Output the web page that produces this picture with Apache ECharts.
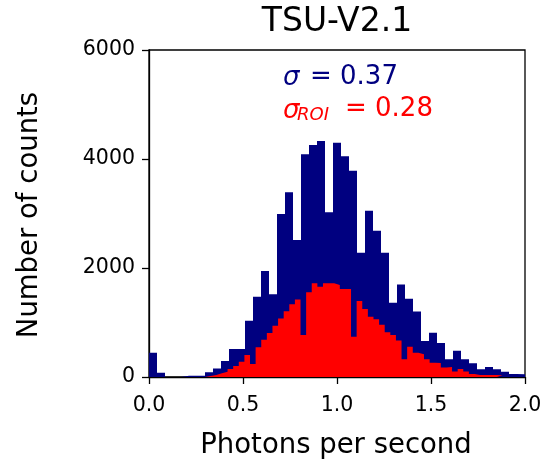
<!DOCTYPE html>
<html>
<head>
<meta charset="utf-8">
<script src="https://cdn.jsdelivr.net/npm/echarts@6/dist/echarts.min.js"></script>
<style>
html,body{margin:0;padding:0;background:#fff;}
#c{width:545px;height:466px;}
</style>
</head>
<body>
<div id="c"></div>
<script>
// ---- data ----
const titleText = 'TSU-V2.1';
const xLabel = 'Photons per second';
const yLabel = 'Number of counts';
const xTicks = [0.0, 0.5, 1.0, 1.5, 2.0];
const yTicks = [0, 2000, 4000, 6000];

// all photons: 47 bins from 0 to 2
const allBinStart = 0;
const allBinWidth = 2 / 47;
const allCounts = [446, 79, 0, 0, 25, 25, 25, 88, 155, 294, 514, 514, 1033, 1474, 1945, 1517,
  2991, 3389, 2514, 4086, 4257, 4331, 3022, 4300, 4050, 3786, 2281, 3052, 2685, 2281, 1363,
  1695, 1435, 1200, 660, 813, 625, 324, 483, 324, 251, 144, 184, 144, 95, 55, 50];

// ROI photons: 63 bins of width 2/67 from 0
const roiBinStart = 0;
const roiBinWidth = 2 / 67;
const roiCounts = [0, 0, 0, 0, 0, 0, 0, 0, 0, 0, 18, 37, 67, 98, 147, 202, 281, 404, 239, 545,
  685, 807, 942, 1073, 1205, 1336, 1420, 771, 1556, 1719, 1657, 1719, 1719, 1688, 1615, 1615,
  740, 1395, 1250, 1107, 1058, 960, 822, 771, 670, 324, 556, 446, 416, 327, 260, 255, 175, 185,
  100, 145, 100, 55, 37, 37, 37, 37, 30];

const sigmaAll = '0.37';
const sigmaRoi = '0.28';

// ---- build step data ----
function stepData(start, width, counts) {
  const d = counts.map((c, i) => [start + i * width, c]);
  d.push([start + counts.length * width, counts[counts.length - 1]]);
  return d;
}

const FONT = 'DejaVu Sans';
const chart = echarts.init(document.getElementById('c'), null, {renderer: 'canvas'});
const axisCommon = {
  axisLine: {show: true, lineStyle: {color: '#000', width: 1.3}},
  axisTick: {show: true, inside: false, length: 7, lineStyle: {color: '#000', width: 1.3}},
  splitLine: {show: false},
};
chart.setOption({
  animation: false,
  backgroundColor: '#fff',
  grid: {left: 149, top: 50, width: 376, height: 327, show: true, borderColor: '#000', borderWidth: 1.3, backgroundColor: 'transparent'},
  xAxis: Object.assign({
    type: 'value', min: xTicks[0], max: xTicks[xTicks.length - 1], interval: xTicks[1] - xTicks[0],
    axisLabel: {color: '#000', fontSize: 20.5, fontFamily: FONT, margin: 18, formatter: v => v.toFixed(1), showMinLabel: true, showMaxLabel: true},
  }, axisCommon),
  yAxis: Object.assign({
    type: 'value', min: yTicks[0], max: yTicks[yTicks.length - 1], interval: yTicks[1] - yTicks[0],
    axisLabel: {color: '#000', fontSize: 20.5, fontFamily: FONT, margin: 14, formatter: v => String(v), showMinLabel: true, showMaxLabel: true},
  }, axisCommon),
  series: [
    {
      type: 'line', step: 'end', symbol: 'none', data: stepData(allBinStart, allBinWidth, allCounts),
      lineStyle: {width: 0, color: '#000080'}, itemStyle: {color: '#000080'},
      areaStyle: {color: '#000080', opacity: 1}, z: 2
    },
    {
      type: 'line', step: 'end', symbol: 'none', data: stepData(roiBinStart, roiBinWidth, roiCounts),
      lineStyle: {width: 0, color: '#ff0000'}, itemStyle: {color: '#ff0000'},
      areaStyle: {color: '#ff0000', opacity: 1}, z: 3
    }
  ],
  graphic: [
    {type: 'text', style: {text: titleText, x: 337, y: 22, fill: '#000', font: '33px "DejaVu Sans"', align: 'center', verticalAlign: 'middle'}},
    {type: 'text', style: {text: xLabel, x: 336, y: 446, fill: '#000', font: '27.5px "DejaVu Sans"', align: 'center', verticalAlign: 'middle'}},
    {type: 'text', x: 30, y: 215, rotation: Math.PI / 2, style: {text: yLabel, x: 0, y: 0, fill: '#000', font: '27.5px "DejaVu Sans"', align: 'center', verticalAlign: 'middle'}},
    {type: 'text', style: {text: 'σ', x: 283, y: 78, fill: '#000080', font: 'italic 26px "DejaVu Sans"', align: 'left', verticalAlign: 'middle'}},
    {type: 'text', style: {text: '= ' + sigmaAll, x: 310, y: 77, fill: '#000080', font: '26px "DejaVu Sans"', align: 'left', verticalAlign: 'middle'}},
    {type: 'text', style: {text: 'σ', x: 283, y: 111, fill: '#ff0000', font: 'italic 26px "DejaVu Sans"', align: 'left', verticalAlign: 'middle'}},
    {type: 'text', style: {text: 'ROI', x: 297, y: 115, fill: '#ff0000', font: 'italic 18px "DejaVu Sans"', align: 'left', verticalAlign: 'middle'}},
    {type: 'text', style: {text: '= ' + sigmaRoi, x: 345, y: 109, fill: '#ff0000', font: '26px "DejaVu Sans"', align: 'left', verticalAlign: 'middle'}}
  ]
});
</script>
</body>
</html>
